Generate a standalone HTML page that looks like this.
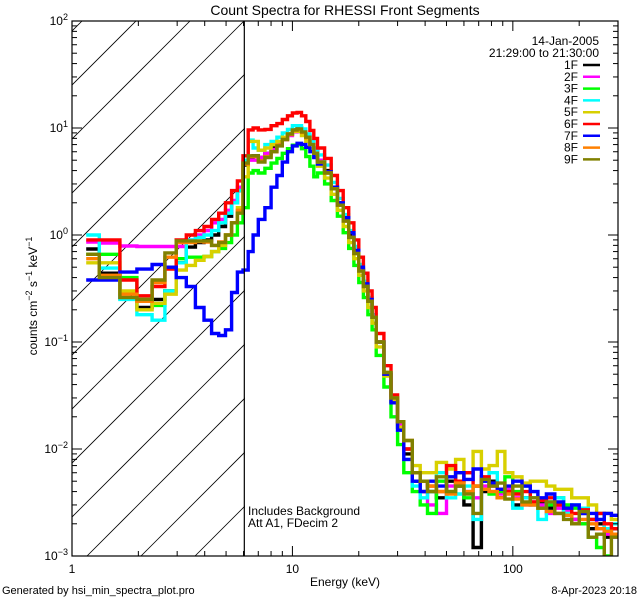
<!DOCTYPE html>
<html><head><meta charset="utf-8"><style>
html,body{margin:0;padding:0;background:#fff;}
svg{display:block;font-family:"Liberation Sans",sans-serif;}
</style></head><body>
<svg id="chart" width="640" height="600" viewBox="0 0 640 600" xmlns="http://www.w3.org/2000/svg">
<rect width="640" height="600" fill="#fff"/>
<defs><clipPath id="plotclip"><rect x="72" y="21" width="546" height="535"/></clipPath>
<clipPath id="hatchclip"><rect x="72" y="21" width="173" height="535"/></clipPath></defs>
<g id="hatch" clip-path="url(#hatchclip)"></g>
<g id="series" clip-path="url(#plotclip)"></g>
<g id="axes"></g>
<text x="345" y="15" font-size="14" text-anchor="middle">Count Spectra for RHESSI Front Segments</text>
<text x="345" y="586" font-size="12" text-anchor="middle">Energy (keV)</text>
<text transform="translate(37,296) rotate(-90)" font-size="12" text-anchor="middle">counts cm<tspan dy="-5" font-size="9">−2</tspan><tspan dy="5"> s</tspan><tspan dy="-5" font-size="9">−1</tspan><tspan dy="5"> keV</tspan><tspan dy="-5" font-size="9">−1</tspan></text>
<text x="599" y="45" font-size="12" text-anchor="end">14-Jan-2005</text>
<text x="599" y="57" font-size="12" text-anchor="end">21:29:00 to 21:30:00</text>
<g id="legend"></g>
<text x="248" y="515" font-size="12">Includes Background</text>
<text x="248" y="527" font-size="12">Att A1, FDecim 2</text>
<text x="2" y="594" font-size="11">Generated by hsi_min_spectra_plot.pro</text>
<text x="637" y="594" font-size="11" text-anchor="end">8-Apr-2023 20:18</text>
</svg>
<script>
const edges=[1.16,1.33,1.65,1.97,2.31,2.64,2.97,3.3,3.63,3.97,4.3,4.63,4.97,5.3,5.63,5.97,6.3,6.63,7,7.5,8,8.5,9,9.5,10,10.5,11,11.5,12,12.5,13,14,15,16,17,18,19,20,21,22,23,24,26,28,30,32,35,38,41,45,50,55,60,66,72,78,85,92,100,110,120,130,142,155,170,185,200,220,240,260,280,300];
const seriesNames=["1F","2F","3F","4F","5F","6F","7F","8F","9F"];
const seriesColors=["#000000","#ff00ff","#00ff00","#00ffff","#d8d000","#ff0000","#0000ff","#ff8000","#808000"];
const s1F=[0.74,0.44,0.26,0.21,0.25,0.3,0.55,0.77,0.85,0.9,1.0,1.2,1.5,2.0,2.6, 4.5,5.2,5.5,5.3,5.8,6.5,7.2,8,8.8,9.6,10,9.5,8.5,7.3,6.2, 5.0,4.0,2.8,2.0,1.4,1.0,0.7,0.48,0.34,0.24,0.17,0.1,0.05,0.028,0.016,0.009,0.005,0.004, .004,.0035,.005,.0045,.003,.0012,.004,.005,.0035,.004,.003,.0035,.003,.0032,.0028,.003,.0025,.0022,.0025,.0018,.002,.0015,.0018];
const s2F=[0.86,0.84,0.79,0.78,0.78,0.78,0.78,0.9,1.0,1.1,1.3,1.4,1.7,2.1,2.8, 4.8,5,5,5.3,5.8,6.3,7,7.8,8.5,9.2,9.5,9.2,8.3,7.2,6.2, 5.0,3.9,2.7,1.9,1.35,0.95,0.68,0.47,0.33,0.24,0.17,0.1,0.05,0.029,0.017,0.01,0.006,0.004, .003,.0025,.0045,.005,.004,.0035,.0045,.004,.0038,.0042,.0035,.003,.0032,.003,.0025,.0028,.0026,.0022,.002,.0022,.0018,.0016,.0015];
const s3F=[0.66,0.66,0.4,0.25,0.22,0.3,0.6,0.62,0.62,0.63,0.7,0.75,0.85,1.0,1.3, 1.8,3.8,4.0,3.8,4.2,4.7,5.2,5.8,6.4,6.9,7.0,6.4,5.4,4.4,3.5, 3.8,3.0,2.1,1.5,1.05,0.75,0.52,0.36,0.26,0.18,0.13,0.075,0.038,0.02,0.011,0.006,0.004,0.003, .0025,.005,.004,.006,.0035,.0045,.005,.0038,.004,.0055,.004,.0045,.0035,.0033,.003,.0035,.003,.0028,.002,.0015,.0012,.001,.0009];
const s4F=[1.0,0.49,0.25,0.18,0.16,0.3,0.55,0.9,0.95,1.0,1.1,1.3,1.6,2.0,2.6, 5,7.7,6.5,6.2,7,7.5,8.2,9,9.7,10.5,10.5,9.8,8.8,7.6,6.5, 5.6,4.5,3.1,2.2,1.55,1.1,0.78,0.53,0.37,0.26,0.18,0.1,0.052,0.028,0.015,0.008,0.0045,0.0035, .004,.006,.0035,.0038,.0045,.0022,.005,.006,.0042,.004,.0028,.0035,.004,.0022,.0032,.0035,.0025,.003,.0028,.0022,.0025,.0018,.002];
const s5F=[0.55,0.55,0.3,0.2,0.23,0.28,0.47,0.52,0.58,0.63,0.7,0.8,1.0,1.3,1.8, 3.5,7.5,7.5,6.2,6.5,7,7.5,8.2,8.8,9.3,9.3,8.5,7.5,6.4,5.4, 4.4,3.4,2.4,1.7,1.2,0.85,0.6,0.42,0.3,0.21,0.15,0.09,0.048,0.028,0.016,0.01,0.007,0.006, .006,.0075,.0065,.008,.006,.0095,.0065,.007,.0095,.006,.0055,.0048,.005,.005,.0045,.0042,.0042,.0035,.0035,.003,.0025,.0025,.0022];
const s6F=[0.9,0.9,0.38,0.27,0.33,0.48,0.9,1.0,1.1,1.2,1.4,1.6,2.0,2.6,3.2, 5.5,9.6,10,9.6,9.7,10.5,11,12,13,13.8,14,13,11.5,9.5,8, 6.5,5.2,3.6,2.6,1.8,1.3,0.9,0.62,0.44,0.3,0.21,0.12,0.06,0.032,0.018,0.01,0.006,0.005, .0045,.004,.007,.005,.006,.0045,.0055,.0045,.0042,.004,.0038,.004,.0032,.0033,.0035,.003,.0028,.0025,.0027,.0022,.0025,.002,.0018];
const s7F=[0.38,0.38,0.45,0.48,0.53,0.5,0.4,0.33,0.21,0.16,0.12,0.115,0.13,0.29,0.45, 0.47,0.7,1.0,1.4,1.8,2.8,3.6,4.8,6.0,6.8,7.2,7.0,6.6,6.0,5.3, 4.6,3.9,2.8,2.0,1.45,1.05,0.72,0.5,0.35,0.25,0.17,0.1,0.05,0.027,0.015,0.008,0.005,0.004, .005,.0045,.0055,.006,.0052,.0065,.005,.0048,.0042,.0045,.005,.0045,.004,.0035,.0038,.0032,.0028,.003,.0025,.0025,.0022,.0025,.0024];
const s8F=[0.6,0.42,0.28,0.24,0.36,0.62,0.85,0.85,0.87,0.86,0.8,0.86,1.0,1.3,1.7, 4.6,5.4,5.4,4.9,5.4,6,6.9,7.8,8.7,9.5,9.7,9.1,8.1,7,5.8, 4.8,3.8,2.7,1.9,1.35,0.95,0.67,0.46,0.33,0.24,0.17,0.1,0.052,0.03,0.018,0.012,0.006,0.005, .0045,.004,.0038,.0048,.004,.0045,.0042,.004,.0035,.0038,.0034,.003,.003,.0028,.0026,.0025,.0024,.002,.0022,.002,.0018,.0017,.0016];
const s9F=[0.66,0.4,0.26,0.25,0.38,0.68,0.88,0.88,0.88,0.88,0.8,0.85,1.0,1.3,1.6, 4.7,5.5,5.5,4.8,5.3,6,6.8,7.8,8.8,9.6,9.8,9.2,8.2,7,5.8, 4.8,3.8,2.7,1.9,1.35,0.95,0.67,0.46,0.33,0.24,0.17,0.1,0.052,0.03,0.018,0.012,0.006,0.005, .004,.0055,.004,.0045,.0038,.0025,.0052,.0045,.0048,.0034,.0045,.0032,.0035,.0028,.0032,.0025,.0022,.002,.0026,.0015,.0016,.0008,.0015];
const seriesValues=[s1F,s2F,s3F,s4F,s5F,s6F,s7F,s8F,s9F];
const xTickMajor=[1,10,100];
const xTickLabels=["1","10","100"];
const yTickExp=[-3,-2,-1,0,1,2];
const bgCutoff=6.05;

const NS="http://www.w3.org/2000/svg";
const L=72,R=618,T=21,B=556;
const xMin=1,xMax=300,yMin=-3,yMax=2;
function xs(e){return L+(Math.log10(e)-Math.log10(xMin))/(Math.log10(xMax)-Math.log10(xMin))*(R-L);}
function ys(v){return B-(Math.log10(v)-yMin)/(yMax-yMin)*(B-T);}
function mk(tag,attrs,parent){const el=document.createElementNS(NS,tag);for(const k in attrs)el.setAttribute(k,attrs[k]);parent.appendChild(el);return el;}

const hatch=document.getElementById('hatch');
for(let c=103;c<=820;c+=54){
  const ln=mk('line',{x1:c-B,y1:B,x2:c-T,y2:T,stroke:'#000','stroke-width':0.8},hatch);
  
  
}
const sg=document.getElementById('series');
seriesValues.forEach((vals,i)=>{
  let d='';
  for(let k=0;k<vals.length;k++){
    const x0=xs(edges[k]).toFixed(1),x1=xs(edges[k+1]).toFixed(1);
    const y=Math.min(ys(vals[k]),B+10).toFixed(1);
    d+=(k===0?'M':'L')+x0+','+y+'L'+x1+','+y;
  }
  const p=mk('path',{d:d,fill:'none',stroke:seriesColors[i],'stroke-width':3.4,'stroke-linejoin':'miter'},sg);
  
  
});
const ax=document.getElementById('axes');
const fr=mk('rect',{x:L,y:T,width:R-L,height:B-T,fill:'none',stroke:'#000','stroke-width':1.2},ax);


const cut=mk('line',{x1:xs(bgCutoff),y1:T,x2:xs(bgCutoff),y2:B,stroke:'#000','stroke-width':1.2},ax);


for(let dec=1;dec<=100;dec*=10){
  for(let m=1;m<=9;m++){
    const e=dec*m; if(e>xMax) break;
    const x=xs(e),len=(m===1)?10:5;
    const t1=mk('line',{x1:x,y1:B,x2:x,y2:B-len,stroke:'#000'},ax);
    
    
    const t2=mk('line',{x1:x,y1:T,x2:x,y2:T+len,stroke:'#000'},ax);
    
    
  }
}
xTickMajor.forEach((e,i)=>{
  const t=mk('text',{x:xs(e),y:B+17,'font-size':12,'text-anchor':'middle'},ax);
  t.textContent=xTickLabels[i];
  
  
});
yTickExp.forEach(ex=>{
  for(let m=1;m<=9;m++){
    const v=m*Math.pow(10,ex); if(Math.log10(v)>yMax+1e-9) break;
    const y=ys(v),len=(m===1)?10:5;
    const t1=mk('line',{x1:L,y1:y,x2:L+len,y2:y,stroke:'#000'},ax);
    
    
    const t2=mk('line',{x1:R,y1:y,x2:R-len,y2:y,stroke:'#000'},ax);
    
    
  }
  const t=mk('text',{x:L-4,y:ys(Math.pow(10,ex))+4,'font-size':12,'text-anchor':'end'},ax);
  t.innerHTML='10<tspan dy="-5" font-size="9">'+(ex<0?'−'+(-ex):ex)+'</tspan>';
  
  
});
const lg=document.getElementById('legend');
seriesNames.forEach((n,i)=>{
  const y=65+i*11.8;
  const t=mk('text',{x:578,y:y+4,'font-size':12,'text-anchor':'end'},lg);
  t.textContent=n;
  
  
  const l=mk('line',{x1:583,y1:y,x2:600,y2:y,stroke:seriesColors[i],'stroke-width':2.5},lg);
  
  
});
</script>
</body></html>
